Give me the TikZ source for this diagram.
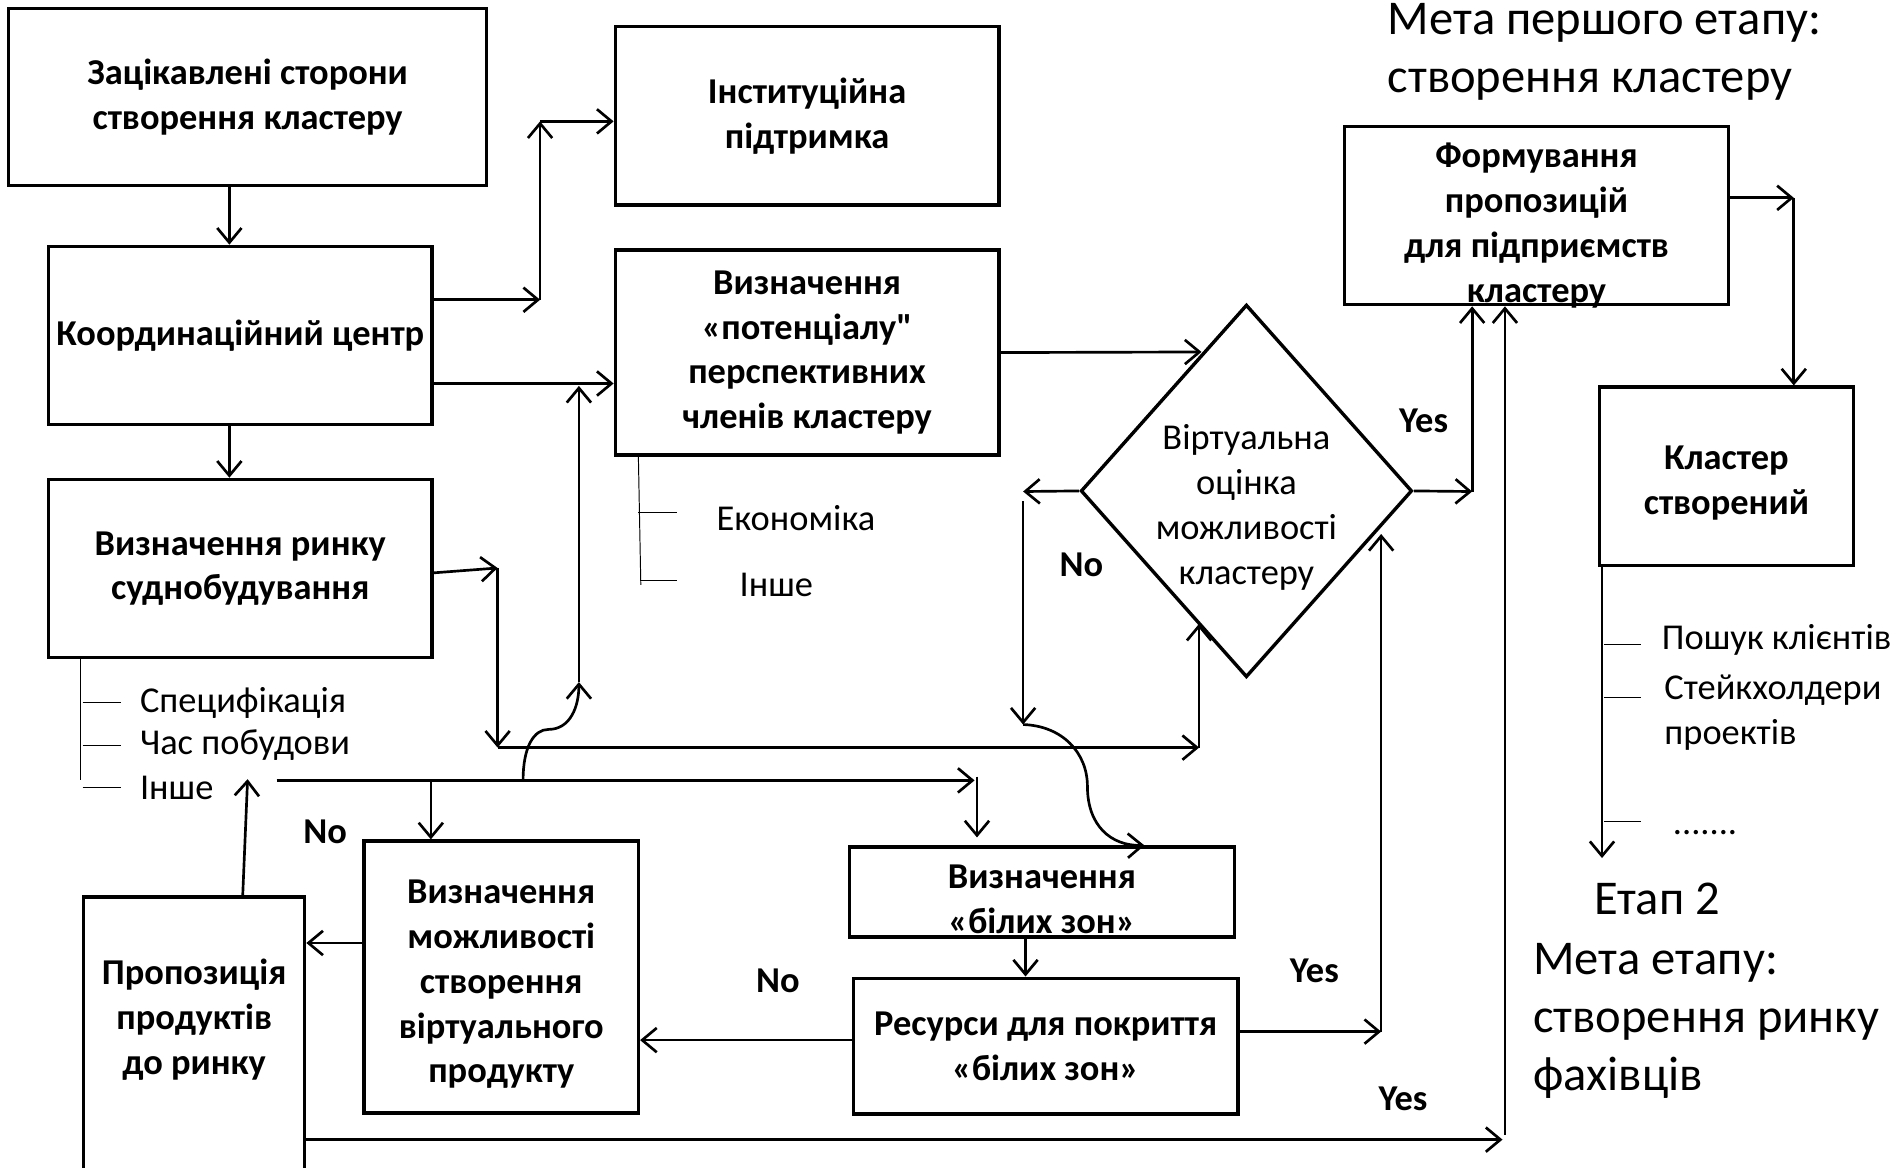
\documentclass[tikz,border=0pt]{standalone}
\usepackage{fontspec}
\setmainfont{Carlito}[Ligatures=TeXOff]
\usepackage{tikz}
\usetikzlibrary{shapes.geometric,arrows.meta}

\begin{document}
\begin{tikzpicture}[x=0.5pt,y=-0.5pt,
	box/.style={draw,line width=1.4pt,align=center,inner sep=0pt,font=\fontsize{15}{18.5}\selectfont\bfseries},
	btxt/.style={align=center,inner sep=0pt,font=\fontsize{15}{18.5}\selectfont\bfseries},
	conn/.style={line width=1.1pt,-{Straight Barb[length=6pt,width=10pt]}},
	lst/.style={anchor=west,inner sep=0pt,align=left,font=\fontsize{15}{18.5}\selectfont},
	big/.style={anchor=west,inner sep=0pt,align=left,font=\fontsize{20}{24}\selectfont},
	yn/.style={inner sep=0pt,font=\fontsize{15}{18}\selectfont\bfseries}]

	\useasboundingbox (0,0) rectangle (1568,962);

	\node[box,minimum width=197pt,minimum height=73pt] (zs) at (204,80) {Зацікавлені сторони\\створення кластеру};
	\node[box,minimum width=158pt,minimum height=73.5pt] (kc) at (198,276.5) {Координаційний центр};
	\node[box,minimum width=158pt,minimum height=73.5pt] (vr) at (198,468.5) {Визначення ринку\\суднобудування};
	\node[box,minimum width=158pt,minimum height=73.5pt] (ip) at (665,95.5) {Інституційна\\підтримка};
	\node[box,minimum width=158pt,minimum height=84.5pt] (vp) at (665,290.5) {Визначення\\«потенціалу"\\перспективних\\членів кластеру};
	\node[draw,diamond,line width=1.4pt,minimum width=136.5pt,minimum height=153.5pt,inner sep=0pt] (vo) at (1027,404.5) {};
	\node[lst,anchor=center,align=center] (vot) at (1027,418) {Віртуальна\\оцінка\\можливості\\кластеру};
	\node[box,minimum width=158pt,minimum height=73.5pt] (fp) at (1266,177.5) {};
	\node[btxt] (fpt) at (1266,186) {Формування\\пропозицій\\для підприємств\\кластеру};
	\node[box,minimum width=104.5pt,minimum height=73.5pt] (ks) at (1422.5,392.5) {};
	\node[btxt] (kst) at (1422.5,398) {Кластер\\створений};
	\node[box,minimum width=158.5pt,minimum height=37pt] (bz) at (858.5,735) {};
	\node[btxt] (bzt) at (858.5,741) {Визначення\\«білих зон»};
	\node[box,minimum width=158.5pt,minimum height=56pt] (rp) at (861.5,862) {Ресурси для покриття\\«білих зон»};
	\node[box,minimum width=113pt,minimum height=112pt] (vm) at (413,805) {};
	\node[btxt] (vmt) at (413,811) {Визначення\\можливості\\створення\\віртуального\\продукту};
	\node[box,minimum width=91pt,minimum height=125.5pt] (pp) at (160,864.5) {};
	\node[btxt] (ppt) at (160,840) {Пропозиція\\продуктів\\до ринку};

	\draw[conn] (zs.south -| 189,0) -- (kc.north -| 189,0);
	\draw[conn] (kc.south -| 189,0) -- (vr.north -| 189,0);

	\coordinate (ku) at (445,247);
	\coordinate (kv) at (445,100);
	\draw[conn] (kc.east |- ku) -- (ku);
	\draw[conn] (ku) -- (kv);
	\draw[conn] (kv) -- (ip.west |- kv);
	\draw[conn] (kc.east |- 0,316) -- (vp.west |- 0,316);

	\coordinate (ri) at (410,468);
	\coordinate (rd) at (410,616);
	\coordinate (ro) at (988,616);
	\coordinate (rv) at (988,514);
	\draw[conn] (vr.east |- 0,472) -- (ri);
	\draw[conn] (ri) -- (rd);
	\draw[conn] (rd) -- (ro);
	\draw[conn] (ro) -- (rv);

	\coordinate (ie) at (990,290);
	\draw[conn] (vp.east) -- (ie);

	\coordinate (nl) at (843,405);
	\coordinate (nt) at (843,413);
	\coordinate (nd) at (843,597);
	\coordinate (nm) at (896,648);
	\draw[conn] (vo.west) -- (nl);
	\draw[conn] (nt) -- (nd);
	\draw[conn] (nd) .. controls (875,598) and (896,620) .. (nm) .. controls (896,680) and (915,697) .. (bz.north -| 943,0);

	\coordinate (oa) at (228,643);
	\coordinate (ob) at (803,643);
	\coordinate (oc) at (805,640);
	\coordinate (bd) at (805,690);
	\coordinate (od) at (355,643);
	\draw[conn] (oa) -- (ob);
	\draw[conn] (oc) -- (bd);
	\draw[conn] (od) -- (vm.north -| od);

	\coordinate (ua) at (431,643);
	\coordinate (um) at (452,601);
	\coordinate (ub) at (477,562);
	\coordinate (ue) at (477,318);
	\draw[conn] (ua) .. controls (431,615) and (440,601) .. (um) .. controls (470,601) and (477,582) .. (ub);
	\draw[conn] (ub) -- (ue);

	\coordinate (yr) at (1213,405);
	\draw[conn] (vo.east) -- (yr);
	\draw[conn] (yr) -- (fp.south -| yr);

	\coordinate (fr) at (1478,163);
	\draw[conn] (fp.east |- fr) -- (fr);
	\draw[conn] (fr) -- (ks.north -| fr);

	\draw[conn] (bz.south -| 845,0) -- (rp.north -| 845,0);
	\draw[conn] (rp.west |- 0,857) -- (vm.east |- 0,857);

	\coordinate (yb) at (1138,850);
	\coordinate (yt) at (1138,440);
	\draw[conn] (rp.east |- yb) -- (yb);
	\draw[conn] (yb) -- (yt);

	\coordinate (pu) at (204,642);
	\draw[conn] (vm.west |- 0,777) -- (pp.east |- 0,777);
	\draw[conn] (pp.north -| 200,0) -- (pu);

	\coordinate (pb) at (1238,939);
	\coordinate (pc) at (1240,935);
	\draw[conn] (pp.east |- pb) -- (pb);
	\draw[conn] (pc) -- (fp.south -| pc);

	\draw[thin] (vr.south -| 66,0) -- (66,643);
	\foreach \y/\t in {579/Специфікація,614/Час побудови,649/Інше} {
		\draw[thin] (68,\y) -- (100,\y);
		\node[lst] (s\y) at (115,\y) {\t};
	}

	\draw[thin] (vp.south -| 526,0) -- (528,482);
	\draw[thin] (526,422) -- (558,422);
	\draw[thin] (528,478) -- (558,478);
	\node[lst] (ek) at (590,427) {Економіка};
	\node[lst] (ie2) at (609,482) {Інше};

	\draw[conn] (ks.south -| 1320,0) -- (1320,707);
	\foreach \y in {531,575,677}
		\draw[thin] (1322,\y) -- (1352,\y);
	\node[lst] (pk) at (1369,527) {Пошук клієнтів};
	\node[lst] (sh) at (1371,587) {Стейкхолдери\\проектів};
	\node[lst] (dt) at (1378,686) {.......};

	\node[big] (m1) at (1143,43) {Мета першого етапу:\\створення кластеру};
	\node[big] (e2) at (1313,741) {Етап 2};
	\node[big] (m2) at (1263,841) {Мета етапу:\\створення ринку\\фахівців};

	\node[yn] (y1) at (1173,347) {Yes};
	\node[yn] (n1) at (891,465) {No};
	\node[yn] (y2) at (1083,800) {Yes};
	\node[yn] (n2) at (641,808) {No};
	\node[yn] (n3) at (268,685) {No};
	\node[yn] (y3) at (1156,905) {Yes};

\end{tikzpicture}
\end{document}
